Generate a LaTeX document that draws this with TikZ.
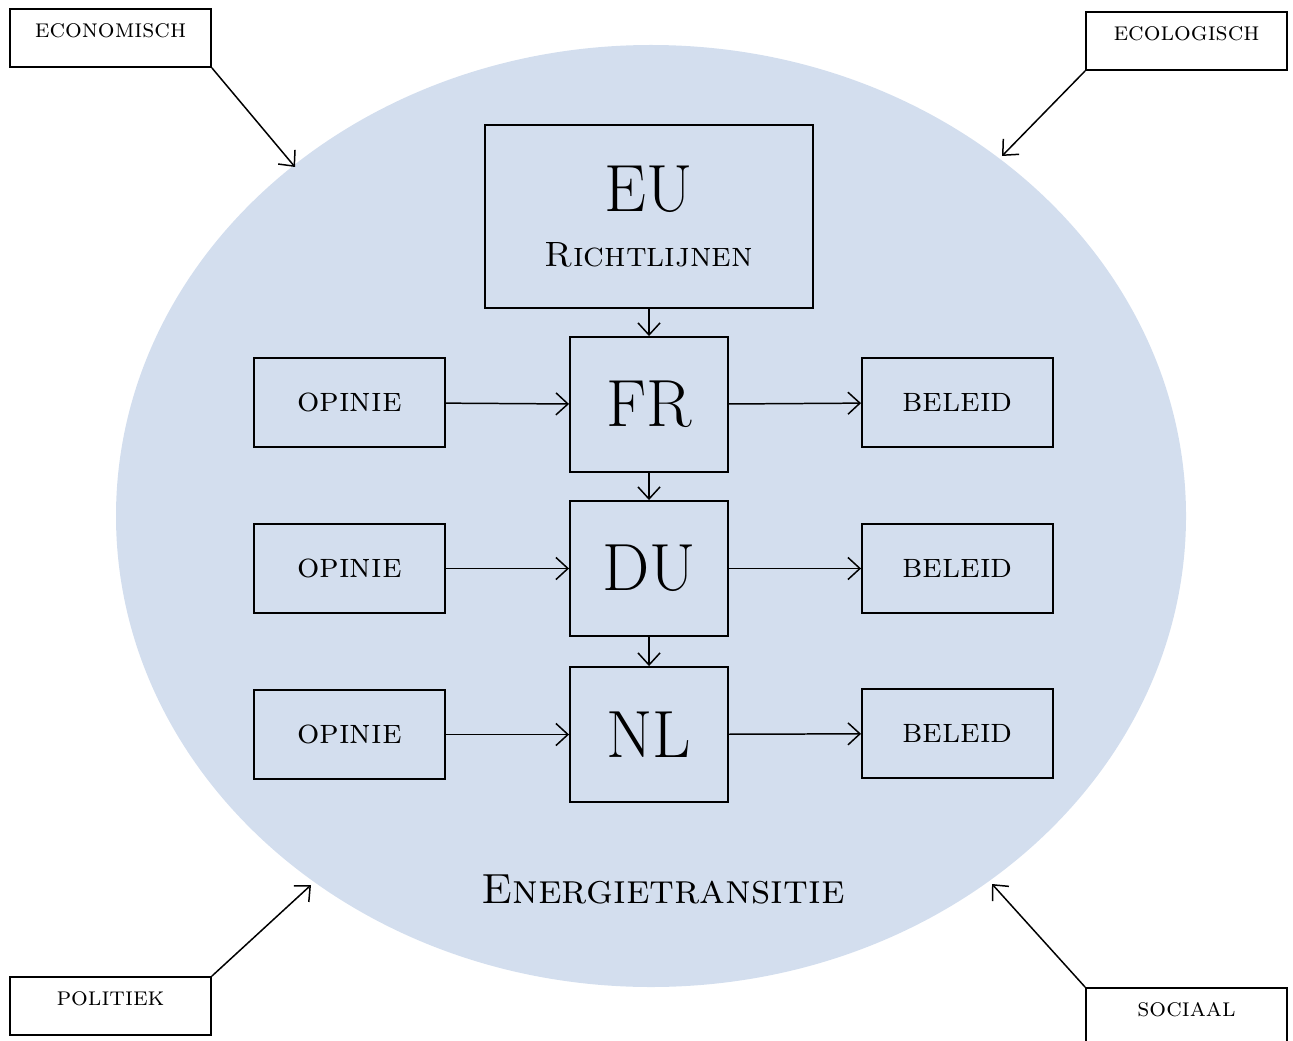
\documentclass[tikz,border=0pt]{standalone}
\usetikzlibrary{arrows.meta}
\definecolor{energyblue}{RGB}{211,222,238}
\tikzset{
  box/.style={draw, line width=1.1pt, inner sep=0pt},
  tag/.style={box, minimum width=4.02cm, minimum height=1.16cm, text depth=0.3cm, font=\fontsize{15}{17}\selectfont\scshape},
  side/.style={box, minimum width=3.82cm, minimum height=1.78cm, font=\fontsize{20}{22}\selectfont\scshape},
  land/.style={box, minimum width=3.16cm, minimum height=2.7cm, font=\fontsize{38}{40}\selectfont},
  flow/.style={-{Straight Barb[length=2.4mm,width=4.4mm]}, line width=0.85pt},
}
\begin{document}
\begin{tikzpicture}[x=0.02cm, y=-0.02cm]
\useasboundingbox (0,0) rectangle (1293,1040);
\fill[energyblue] (651,516) ellipse [x radius=535, y radius=471];

% vier invalshoeken
\node[tag] (econ) at (110.5,38) {economisch};
\node[tag] (ecol) at (1186.5,41) {ecologisch};
\node[tag] (poli) at (110.5,1006) {politiek};
\node[tag] (soci) at (1186.5,1017) {sociaal};
\coordinate (econtip) at (295,167);
\coordinate (ecoltip) at (1002,156);
\coordinate (politip) at (311,885);
\coordinate (socitip) at (992,884);
\draw[flow] (econ.south east) -- (econtip);
\draw[flow] (ecol.south west) -- (ecoltip);
\draw[flow] (poli.north east) -- (politip);
\draw[flow] (soci.north west) -- (socitip);

% landen
\node[box, minimum width=6.56cm, minimum height=3.66cm, align=center, text depth=0pt] (eu) at (649,216.5)
  {{\fontsize{38}{40}\selectfont EU}\\[16pt]{\fontsize{20}{22}\selectfont\scshape Richtlijnen}};
\node[land] (fr) at (649,404.5) {FR};
\node[land] (du) at (649,568.5) {DU};
\node[land] (nl) at (649,734.5) {NL};
\draw[flow] (eu) -- (fr);
\draw[flow] (fr) -- (du);
\draw[flow] (du) -- (nl);

\node[side] (op1) at (349.5,402.5) {opinie};
\node[side] (op2) at (349.5,568.5) {opinie};
\node[side] (op3) at (349.5,734.5) {opinie};
\node[side] (be1) at (957.5,402.5) {beleid};
\node[side] (be2) at (957.5,568.5) {beleid};
\node[side] (be3) at (957.5,733.5) {beleid};
\draw[flow] (op1) -- (fr);
\draw[flow] (op2) -- (du);
\draw[flow] (op3) -- (nl);
\draw[flow] (fr) -- (be1);
\draw[flow] (du) -- (be2);
\draw[flow] (nl) -- (be3);

\node (energie) at (663,889) {\fontsize{24}{27}\selectfont\scshape Energietransitie};
\end{tikzpicture}
\end{document}
